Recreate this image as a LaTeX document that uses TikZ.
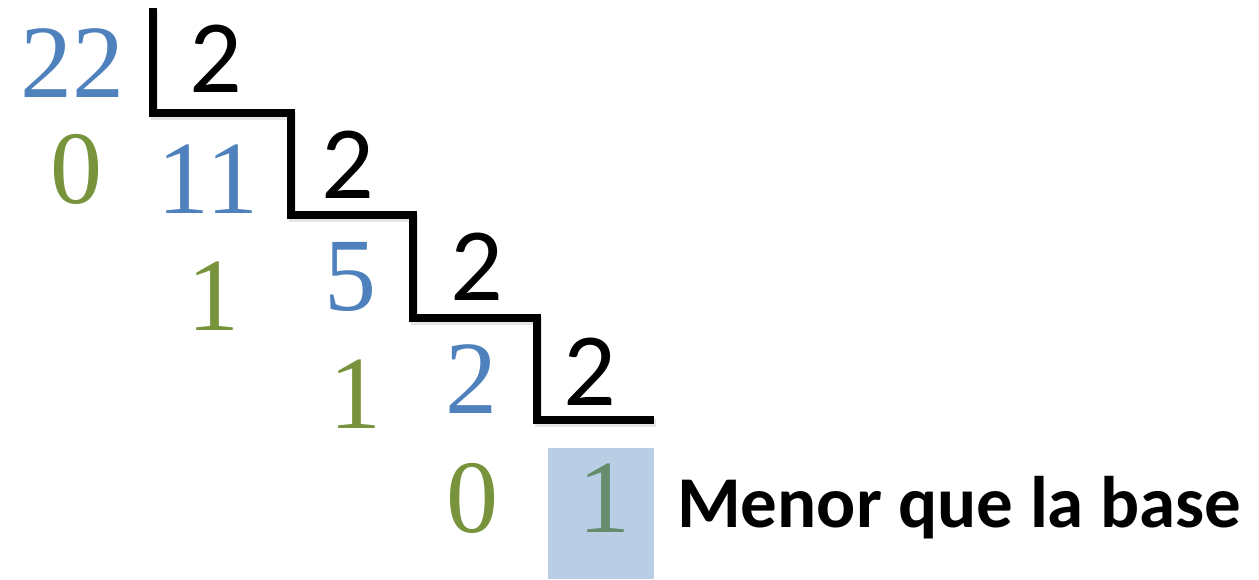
\documentclass[tikz,border=0pt]{standalone}
\usepackage{fontspec}
\setmainfont{Liberation Serif}
\newfontfamily\calibri{Carlito}
\definecolor{numblue}{HTML}{4F81BD}
\definecolor{remgreen}{HTML}{77933C}
\definecolor{lastgreen}{HTML}{668C6C}
\definecolor{hlblue}{HTML}{B9CDE5}
\begin{document}
\begin{tikzpicture}[x=1pt,y=-1pt,
  every node/.style={inner sep=0pt,outer sep=0pt,anchor=base},
  dividend/.style={text=numblue,font=\fontsize{104}{104}\selectfont},
  remainder/.style={text=remgreen,font=\fontsize{104}{104}\selectfont},
  divisor/.style={text=black,font=\calibri\fontsize{104}{104}\selectfont},
  note/.style={anchor=base west,text=black,font=\calibri\bfseries\fontsize{73}{73}\selectfont},
  stair/.style={line width=7.5pt,line join=miter,black},
  stairshadow/.style={line width=7.5pt,black!10}]
\useasboundingbox (0,0) rectangle (1259,579);

% highlight behind the last quotient
\fill[hlblue] (548,448) rectangle (654,579);

% division staircase
\coordinate (s0) at (153,8);
\coordinate (s1) at (153,113);
\coordinate (s2) at (291,113);
\coordinate (s3) at (291,215);
\coordinate (s4) at (413,215);
\coordinate (s5) at (413,318);
\coordinate (s6) at (537,318);
\coordinate (s7) at (537,420);
\coordinate (s8) at (654,420);
\draw[stairshadow,transform canvas={shift={(1.5pt,-3pt)}}]
  (s0) -- (s1) -- (s2) -- (s3) -- (s4) -- (s5) -- (s6) -- (s7) -- (s8);
\draw[stair] (s0) -- (s1) -- (s2) -- (s3) -- (s4) -- (s5) -- (s6) -- (s7) -- (s8);

% dividends and quotients
\node[dividend] (d22) at (72,97) {22};
\node[dividend] (d11) at (208,213) {11};
\node[dividend] (d5)  at (350,310) {5};
\node[dividend] (d2)  at (471,413) {2};
\node[text=lastgreen,font=\fontsize{104}{104}\selectfont] (d1) at (604,532) {1};

% divisors
\node[divisor] (v1) at (216,92) {2};
\node[divisor] (v2) at (348,198) {2};
\node[divisor] (v3) at (477,300) {2};
\node[divisor] (v4) at (590,405) {2};

% remainders
\node[remainder] (r1) at (76,203) {0};
\node[remainder] (r2) at (213,330) {1};
\node[remainder] (r3) at (355,428) {1};
\node[remainder] (r4) at (472,532) {0};

% label
\node[note] (lbl) at (677,527) {Menor que la base};
\end{tikzpicture}
\end{document}
